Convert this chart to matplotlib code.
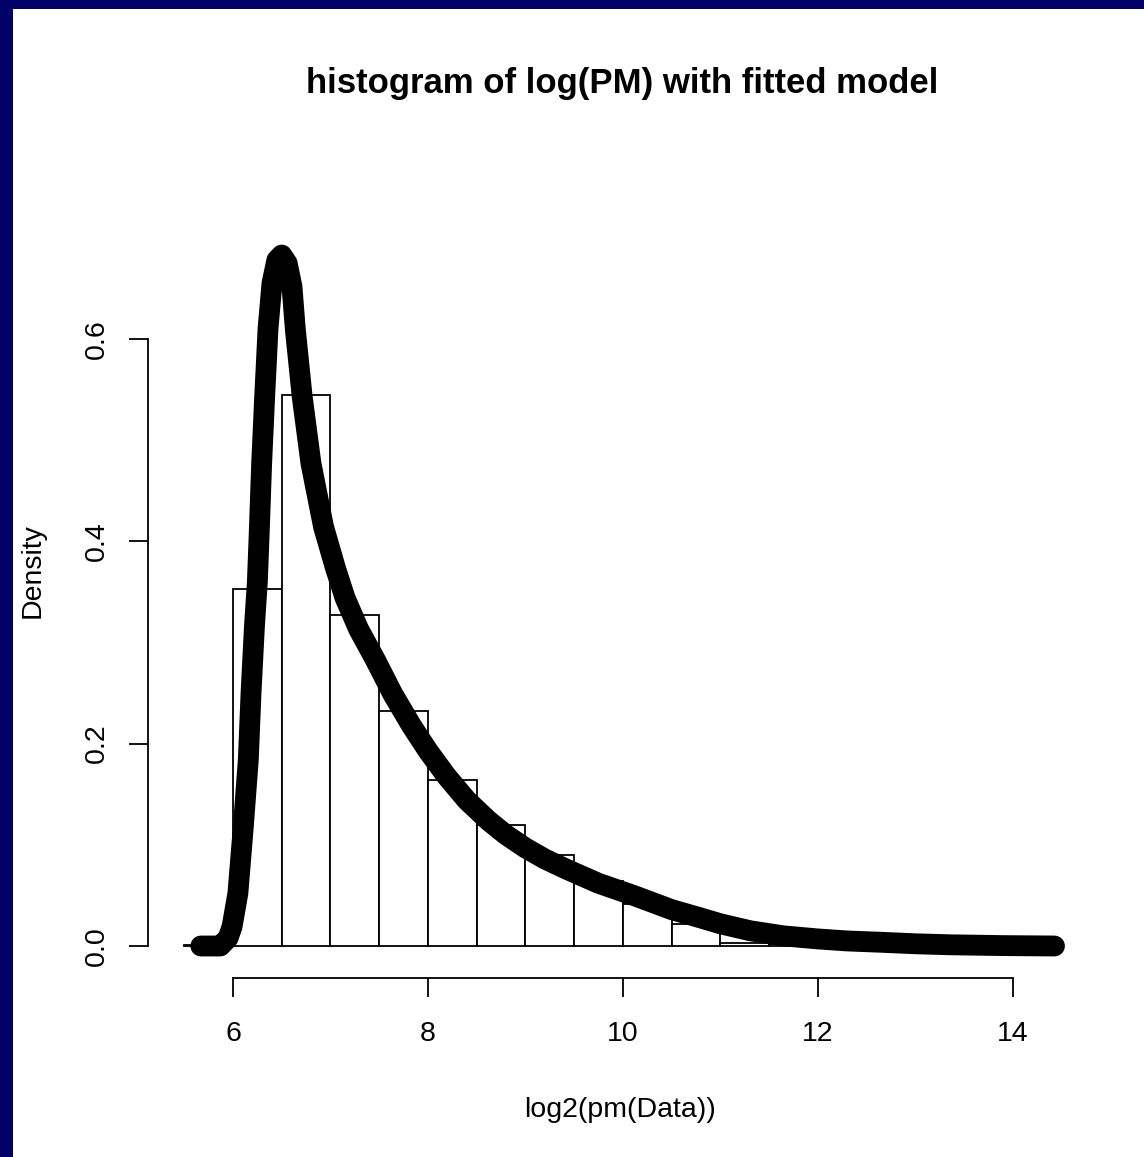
import numpy as np
import matplotlib
matplotlib.use("Agg")
import matplotlib.pyplot as plt
from matplotlib.patches import Rectangle

# Histogram of log2 PM intensities (density scale, bin width 0.5)
bin_edges = [5.5, 6.0, 6.5, 7.0, 7.5, 8.0, 8.5, 9.0, 9.5, 10.0,
             10.5, 11.0, 11.5, 12.0, 12.5, 13.0, 13.5, 14.0, 14.5]
bin_density = [0.001, 0.353, 0.545, 0.327, 0.232, 0.164, 0.120, 0.090, 0.064,
               0.042, 0.022, 0.003, 0.002, 0.001, 0.0005, 0.0003, 0.0002, 0.0001]

# Fitted model density curve
curve_x = [5.67, 5.87, 5.95, 5.99, 6.05, 6.106, 6.157, 6.185, 6.22, 6.25,
           6.27, 6.294, 6.325, 6.36, 6.40, 6.45, 6.50, 6.555, 6.605, 6.64,
           6.71, 6.80, 6.93, 7.05, 7.15, 7.29, 7.46, 7.64, 7.83, 8.0,
           8.19, 8.40, 8.62, 8.80, 9.0, 9.2, 9.42, 9.75, 10.11, 10.5,
           10.79, 11.0, 11.31, 11.65, 12.0, 12.3, 12.67, 13.0, 13.36, 13.9,
           14.43]
curve_y = [0.0, 0.0, 0.008, 0.019, 0.052, 0.118, 0.184, 0.25, 0.316, 0.36,
           0.411, 0.477, 0.543, 0.611, 0.655, 0.678, 0.683, 0.675, 0.652, 0.609,
           0.543, 0.477, 0.414, 0.374, 0.344, 0.313, 0.283, 0.249, 0.218, 0.193,
           0.168, 0.144, 0.124, 0.110, 0.097, 0.086, 0.076, 0.062, 0.050, 0.036,
           0.028, 0.022, 0.015, 0.010, 0.007, 0.005, 0.0036, 0.0022, 0.0012, 0.0004,
           0.0]

x_ticks = [6, 8, 10, 12, 14]
y_ticks = [0.0, 0.2, 0.4, 0.6]
y_tick_labels = ["0.0", "0.2", "0.4", "0.6"]

title = "histogram of log(PM) with fitted model"
x_label = "log2(pm(Data))"
y_label = "Density"

W, H, DPI = 1144, 1157, 100
plt.rcParams["font.family"] = ["Liberation Sans", "DejaVu Sans"]

fig = plt.figure(figsize=(W / DPI, H / DPI), dpi=DPI, facecolor="white")

# navy frame along the left and top edges
navy = "#000066"
fig.patches.append(Rectangle((0, 0), 13 / W, 1, transform=fig.transFigure,
                             facecolor=navy, edgecolor="none", zorder=0))
fig.patches.append(Rectangle((0, 1 - 9 / H), 1, 9 / H, transform=fig.transFigure,
                             facecolor=navy, edgecolor="none", zorder=0))

# plot region in pixels
left_px, right_px, bottom_px, top_px = 148, 1090, 978, 200
ax = fig.add_axes([left_px / W, 1 - bottom_px / H,
                   (right_px - left_px) / W, (bottom_px - top_px) / H])
ax.set_facecolor("none")

# pixel -> data scale
x0_px, x_per_unit = 233, 97.45
y0_px, y_per_unit = 946, 1011.7
ax.set_xlim(6 + (left_px - x0_px) / x_per_unit, 6 + (right_px - x0_px) / x_per_unit)
ax.set_ylim((y0_px - bottom_px) / y_per_unit, (y0_px - top_px) / y_per_unit)

widths = np.diff(bin_edges)
ax.bar(bin_edges[:-1], bin_density, width=widths, align="edge",
       facecolor="white", edgecolor="black", linewidth=1.3, zorder=2)

ax.plot(curve_x, curve_y, color="black", linewidth=15,
        solid_capstyle="round", solid_joinstyle="round", zorder=3)

for side in ("top", "right"):
    ax.spines[side].set_visible(False)
ax.spines["left"].set_bounds(0.0, 0.6)
ax.spines["bottom"].set_bounds(6, 14)
for side in ("left", "bottom"):
    ax.spines[side].set_linewidth(1.3)

ax.set_xticks(x_ticks)
ax.set_xticklabels([str(t) for t in x_ticks])
ax.set_yticks(y_ticks)
ax.set_yticklabels(y_tick_labels, rotation=90, va="center")
ax.tick_params(axis="both", direction="out", length=13.7, width=1.3,
               labelsize=20.5)
ax.tick_params(axis="x", pad=17)
ax.tick_params(axis="y", pad=14)

fig.text(622 / W, 1 - 84 / H, title, ha="center", va="center",
         fontsize=25, fontweight="bold")
fig.text(620 / W, 1 - 1110 / H, x_label, ha="center", va="center", fontsize=20.5)
fig.text(33 / W, 1 - 571 / H, y_label, ha="center", va="center",
         fontsize=20.5, rotation=90)

fig.savefig("out.png", dpi=DPI, facecolor="white")
